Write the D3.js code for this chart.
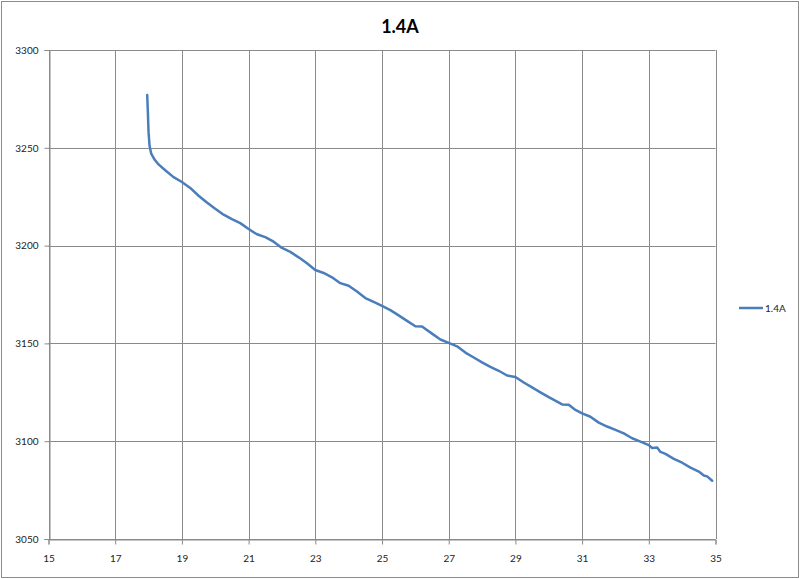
<!DOCTYPE html>
<html><head><meta charset="utf-8">
<script src="https://cdn.jsdelivr.net/npm/d3@7"></script>
<style>body{margin:0;background:#fff;} svg{display:block;}</style>
</head><body>
<script>
const title = "1.4A";
const seriesName = "1.4A";
const xTicks = [15,17,19,21,23,25,27,29,31,33,35];
const yTicks = [3050,3100,3150,3200,3250,3300];
const xValues = [17.96,17.98,18.00,18.03,18.08,18.18,18.30,18.50,18.75,19.00,19.25,19.50,19.75,20.00,20.25,20.50,20.75,21.00,21.25,21.50,21.75,22.00,22.25,22.50,22.75,23.00,23.25,23.50,23.75,24.00,24.25,24.50,24.75,25.00,25.25,25.50,25.75,26.00,26.20,26.50,26.75,27.00,27.25,27.50,27.75,28.00,28.25,28.50,28.75,29.00,29.25,29.50,29.75,30.00,30.25,30.40,30.60,30.80,31.00,31.25,31.50,31.75,32.00,32.25,32.50,32.75,33.00,33.10,33.25,33.35,33.50,33.75,34.00,34.25,34.50,34.65,34.75,34.90];
const yValues = [3277,3268,3258,3251,3247,3244,3241.5,3238.5,3235,3232.5,3229.5,3225.5,3222,3218.8,3215.8,3213.5,3211.5,3208.5,3205.8,3204.3,3202,3198.8,3196.8,3194,3191,3187.5,3186,3183.8,3180.8,3179.5,3176.5,3173.2,3171.2,3169.2,3167,3164.3,3161.5,3158.8,3158.6,3155,3152,3150.3,3148.5,3145.3,3142.8,3140.3,3138,3136,3133.6,3132.8,3130,3127.5,3125,3122.5,3120.2,3118.8,3118.6,3116,3114.2,3112.5,3109.5,3107.5,3105.8,3104,3101.5,3099.8,3098,3096.5,3096.8,3094.5,3093.5,3091,3089,3086.5,3084.5,3082.5,3082,3079.8];

const W = 800, H = 579;
const svg = d3.select("body").append("svg").attr("width", W).attr("height", H);
svg.append("rect").attr("x",1.5).attr("y",1.5).attr("width",W-3).attr("height",H-3)
  .attr("fill","#fff").attr("stroke","#8c8c8c").attr("stroke-width",1);

const plot = {l:48.5, t:50, r:715.5, b:539};
const x = d3.scaleLinear().domain([15,35]).range([plot.l, plot.r]);
const y = d3.scaleLinear().domain([3050,3300]).range([plot.b, plot.t]);
const font = "Lato, 'Open Sans', sans-serif";

// gridlines
svg.append("g").selectAll("line").data(yTicks).join("line")
  .attr("x1", plot.l).attr("x2", plot.r).attr("y1", d=>Math.round(y(d))+0.5).attr("y2", d=>Math.round(y(d))+0.5)
  .attr("stroke","#8a8a8a").attr("stroke-width",1);
svg.append("g").selectAll("line").data(xTicks).join("line")
  .attr("y1", plot.t).attr("y2", plot.b).attr("x1", d=>Math.round(x(d))+0.5).attr("x2", d=>Math.round(x(d))+0.5)
  .attr("stroke","#8a8a8a").attr("stroke-width",1);

// axes
const xAxis = d3.axisBottom(x).tickValues(xTicks).tickSize(5).tickPadding(8).tickFormat(d3.format("d"));
const yAxis = d3.axisLeft(y).tickValues(yTicks).tickSize(5).tickPadding(6).tickFormat(d3.format("d"));
const gx = svg.append("g").attr("transform",`translate(0,${Math.round(plot.b)+0.5})`).call(xAxis);
const gy = svg.append("g").attr("transform",`translate(${Math.round(plot.l)+0.5},0)`).call(yAxis);
[gx,gy].forEach(g=>{
  g.select(".domain").attr("stroke","#8a8a8a");
  g.selectAll(".tick line").attr("stroke","#8a8a8a");
  g.selectAll("text").attr("fill","#222").attr("font-family",font).attr("font-size","10px");
});
gx.selectAll(".tick text").attr("dy","0.9em");

// line
const line = d3.line().x((d,i)=>x(xValues[i])).y((d,i)=>y(yValues[i]));
svg.append("path").datum(yValues).attr("d", line).attr("fill","none")
  .attr("stroke","#4a7ebb").attr("stroke-width",2.5).attr("stroke-linejoin","round").attr("stroke-linecap","round");

// title
svg.append("text").attr("x",400).attr("y",33).attr("text-anchor","middle")
  .attr("font-family",font).attr("font-weight","bold").attr("font-size","18px").attr("fill","#000").text(title);

// legend
svg.append("line").attr("x1",739).attr("x2",763).attr("y1",308).attr("y2",308)
  .attr("stroke","#4a7ebb").attr("stroke-width",2.5);
svg.append("text").attr("x",765).attr("y",311.5).attr("font-family",font).attr("font-size","10px")
  .attr("fill","#222").text(seriesName);
</script>
</body></html>
